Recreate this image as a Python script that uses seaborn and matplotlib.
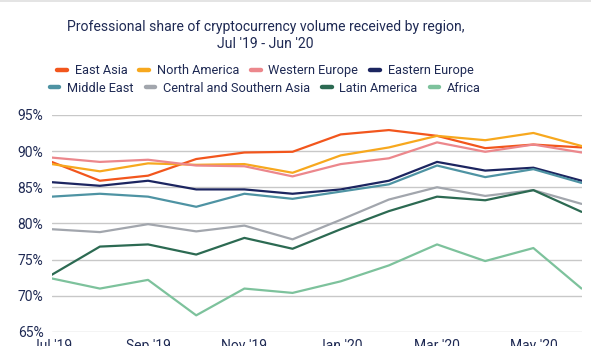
import matplotlib
matplotlib.use("Agg")
import matplotlib.pyplot as plt
from matplotlib.lines import Line2D
from matplotlib.patches import Rectangle
from matplotlib.ticker import FuncFormatter, MultipleLocator
import pandas as pd
import seaborn as sns

months = ["Jul '19", "Aug '19", "Sep '19", "Oct '19", "Nov '19", "Dec '19",
          "Jan '20", "Feb '20", "Mar '20", "Apr '20", "May '20", "Jun '20"]

east_asia = [88.5, 85.9, 86.6, 88.9, 89.8, 89.9, 92.3, 92.9, 92.1, 90.4, 90.9, 90.5]
north_america = [88.2, 87.2, 88.3, 88.1, 88.2, 87.0, 89.4, 90.5, 92.1, 91.5, 92.5, 90.7]
western_europe = [89.1, 88.5, 88.8, 88.0, 87.9, 86.5, 88.2, 89.0, 91.2, 89.9, 90.9, 89.8]
eastern_europe = [85.7, 85.2, 85.9, 84.7, 84.7, 84.1, 84.7, 85.9, 88.5, 87.3, 87.7, 85.9]
middle_east = [83.7, 84.1, 83.7, 82.3, 84.1, 83.4, 84.4, 85.4, 88.0, 86.4, 87.5, 85.6]
central_southern_asia = [79.2, 78.8, 79.9, 78.9, 79.7, 77.8, 80.5, 83.3, 85.0, 83.8, 84.6, 82.7]
latin_america = [72.9, 76.8, 77.1, 75.7, 78.0, 76.5, 79.2, 81.7, 83.7, 83.2, 84.6, 81.6]
africa = [72.4, 71.0, 72.2, 67.3, 71.0, 70.4, 72.0, 74.2, 77.1, 74.8, 76.6, 71.0]

regions = ["East Asia", "North America", "Western Europe", "Eastern Europe",
           "Middle East", "Central and Southern Asia", "Latin America", "Africa"]
series = [east_asia, north_america, western_europe, eastern_europe,
          middle_east, central_southern_asia, latin_america, africa]
colors = ["#F2561D", "#F7A81E", "#EC878C", "#1C2560",
          "#4E93A3", "#A2A6AD", "#2C6A52", "#7DC29C"]

tick_labels = ["Jul '19", "Sep '19", "Nov '19", "Jan '20", "Mar '20", "May '20"]

rows = []
for name, vals in zip(regions, series):
    for i, (m, v) in enumerate(zip(months, vals)):
        rows.append({"idx": i, "month": m, "region": name, "share": v})
df = pd.DataFrame(rows)

sns.set_theme(style="white")
plt.rcParams["font.family"] = ["Roboto", "DejaVu Sans"]
text_color = "#1F2A54"

fig = plt.figure(figsize=(5.91, 3.46), dpi=100)
# thin grey strip along the top edge
fig.patches.append(Rectangle((0, 0.993), 1, 0.007, transform=fig.transFigure,
                             facecolor="#E4E4E4", edgecolor="none", zorder=0))

ax = fig.add_axes([0.0875, 0.0405, 0.8965, 0.6275])

sns.lineplot(data=df, x="idx", y="share", hue="region", hue_order=regions,
             palette=dict(zip(regions, colors)), linewidth=1.6, legend=False,
             ax=ax, sort=False)

ax.set_xlim(0, len(months) - 1)
ax.set_ylim(65, 95)
ax.yaxis.set_major_locator(MultipleLocator(5))
ax.yaxis.set_major_formatter(FuncFormatter(lambda v, _: f"{v:.0f}%"))
ax.set_xticks([months.index(t) for t in tick_labels])
ax.set_xticklabels(tick_labels)
ax.grid(axis="y", color="#C8C8C8", linewidth=1)
ax.grid(axis="x", visible=False)
ax.set_axisbelow(True)
for s in ax.spines.values():
    s.set_visible(False)
ax.tick_params(axis="both", length=0, labelsize=10, labelcolor=text_color)
ax.tick_params(axis="y", pad=6)
ax.tick_params(axis="x", pad=5)
ax.set_xlabel("")
ax.set_ylabel("")

fig.text(0.449, 0.910, "Professional share of cryptocurrency volume received by region,",
         ha="center", va="baseline", fontsize=10.1, color=text_color)
fig.text(0.449, 0.861, "Jul '19 - Jun '20",
         ha="center", va="baseline", fontsize=10.1, color=text_color)

handles = [Line2D([0], [0], color=c, linewidth=3.2) for c in colors]
for row, ypos in ((0, 0.796), (1, 0.745)):
    sl = slice(row * 4, row * 4 + 4)
    fig.legend(handles[sl], regions[sl], loc="center", ncol=4,
               bbox_to_anchor=(0.449, ypos), frameon=False, fontsize=9.2,
               handlelength=0.75, handletextpad=0.6, columnspacing=0.95,
               labelcolor=text_color, borderpad=0)

fig.savefig("out.png", dpi=100)
